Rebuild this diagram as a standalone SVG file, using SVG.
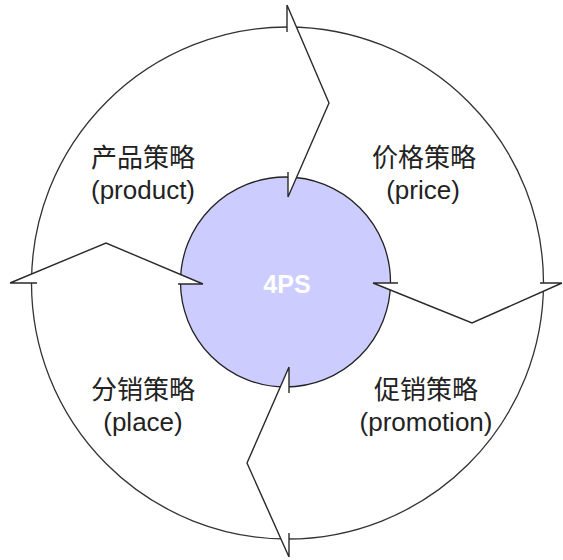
<svg xmlns="http://www.w3.org/2000/svg" width="563" height="560" viewBox="0 0 563 560">
<style>
.ring{fill:none;stroke:#333;stroke-width:1.3}
.core{fill:#ccccff;stroke:#222;stroke-width:1.3}
.cover{fill:#fff;stroke:none}
.edge{fill:none;stroke:#2a2a2a;stroke-width:1.4;stroke-linejoin:miter}
.lbl{font-family:"Liberation Sans","Noto Sans CJK SC",sans-serif;font-size:26px;fill:#222;text-anchor:middle}
.ctr{font-family:"Liberation Sans",Arial,sans-serif;font-size:25px;font-weight:bold;fill:#fff;text-anchor:middle}
</style>
<rect width="563" height="560" fill="#fff"/>
<g id="outer"><circle class="ring" cx="287.5" cy="283" r="256"/></g>
<g id="core"><circle class="core" cx="285.5" cy="282" r="105"/><text class="ctr" x="287" y="293">4PS</text></g>
<g id="connectors">
  <g id="arrow-top">
    <path class="cover" d="M287,5 L287,32 L298.6,32 Z M288,197 L288,172 L298.9,172 Z"/>
    <path class="edge" d="M287,5 L329,103 L288,197 M287,5 L287,32 M288,197 L288,172"/>
  </g>
  <g id="arrow-right">
    <path class="cover" d="M373,283 L398,283 L398,293 Z M562,283 L540,283 L540,292.8 Z"/>
    <path class="edge" d="M373,283 L472,323 L562,283 M373,283 L398,283 M562,283 L540,283"/>
  </g>
  <g id="arrow-bottom">
    <path class="cover" d="M289,367 L289,393 L277.6,393 Z M289,557 L289,533 L278.3,533 Z"/>
    <path class="edge" d="M289,367 L247,463 L289,557 M289,367 L289,393 M289,557 L289,533"/>
  </g>
  <g id="arrow-left">
    <path class="cover" d="M10,283 L37,283 L37,272 Z M203,284 L178,284 L178,274 Z"/>
    <path class="edge" d="M10,283 L106,243 L203,284 M10,283 L37,283 M203,284 L178,284"/>
  </g>
</g>
<g id="product"><text class="lbl" x="143" y="167">产品策略</text><text class="lbl" x="143" y="199">(product)</text></g>
<g id="price"><text class="lbl" x="424" y="167">价格策略</text><text class="lbl" x="423" y="199">(price)</text></g>
<g id="place"><text class="lbl" x="143" y="399">分销策略</text><text class="lbl" x="143" y="431">(place)</text></g>
<g id="promotion"><text class="lbl" x="426" y="399">促销策略</text><text class="lbl" x="426" y="431">(promotion)</text></g>
</svg>
